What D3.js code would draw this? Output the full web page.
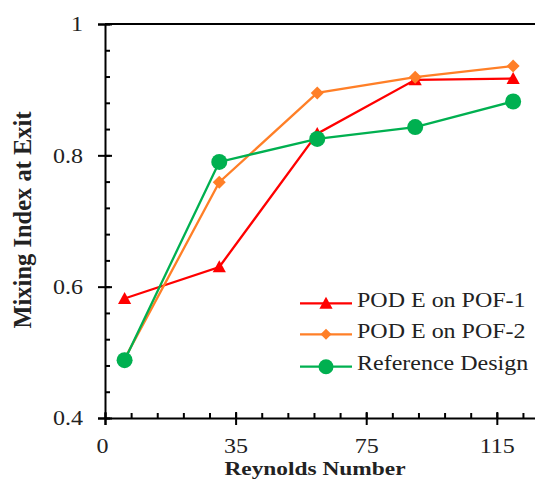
<!DOCTYPE html>
<html>
<head>
<meta charset="utf-8">
<script src="https://cdn.jsdelivr.net/npm/d3@7"></script>
<style>
  html, body { margin: 0; padding: 0; background: #fff; }
  svg { display: block; }
  text { font-family: "Liberation Serif", "Times New Roman", serif; fill: #222; }
</style>
</head>
<body>
<div id="chart"></div>
<script>
// Data
const reynolds = [1, 30, 60, 90, 120];
const seriesNames = ['POD E on POF-1', 'POD E on POF-2', 'Reference Design'];
const pof1Values = [0.582, 0.630, 0.833, 0.915, 0.917];
const pof2Values = [0.490, 0.759, 0.895, 0.919, 0.936];
const refValues = [0.488, 0.790, 0.825, 0.843, 0.882];
const seriesColors = ['#ff0000', '#ff7f27', '#00b050'];
const seriesMarkers = ['triangle', 'diamond', 'circle'];

const xTickValues = [-5, 35, 75, 115];
const xTickLabels = ['0', '35', '75', '115'];
const xMinorTicks = d3.range(-5, 128, 8);
const yTickValues = [0.4, 0.6, 0.8, 1];
const yTickLabels = ['0.4', '0.6', '0.8', '1'];
const yMinorTicks = d3.range(0.4, 1.0001, 0.04);

const width = 535, height = 479;
const stretch = 1.2; // the picture is a bit wider than tall

const svg = d3.select('#chart').append('svg')
  .attr('width', width)
  .attr('height', height);

const x = d3.scaleLinear().domain([-5, 127]).range([105, 536]);
const y = d3.scaleLinear().domain([0.4, 1]).range([418, 24]);

// top border of plot area
svg.append('line')
  .attr('x1', x(-5)).attr('x2', width + 2)
  .attr('y1', y(1)).attr('y2', y(1))
  .attr('stroke', '#000').attr('stroke-width', 2);

// minor ticks (inside)
svg.append('g')
  .attr('transform', `translate(${x(-5)},0)`)
  .call(d3.axisRight(y).tickValues(yMinorTicks).tickSize(5).tickFormat(''))
  .call(g => g.select('.domain').remove());
svg.append('g')
  .attr('transform', `translate(0,${y(0.4)})`)
  .call(d3.axisTop(x).tickValues(xMinorTicks).tickSize(5).tickFormat(''))
  .call(g => g.select('.domain').remove());

// y axis
const yAxis = svg.append('g')
  .attr('transform', `translate(${x(-5)},0)`)
  .call(d3.axisLeft(y).tickValues(yTickValues).tickSizeOuter(0).tickSize(7)
    .tickFormat((d, i) => yTickLabels[i]));
yAxis.selectAll('.tick line').attr('x2', -7).attr('x1', 7);
yAxis.selectAll('.tick text')
  .attr('x', -22 / stretch)
  .attr('dy', '0.34em')
  .attr('transform', `scale(${stretch},1)`)
  .style('font-size', '20px')
  .style('font-family', '"Liberation Serif", serif')
  .attr('fill', '#333');

// x axis
const xAxis = svg.append('g')
  .attr('transform', `translate(0,${y(0.4)})`)
  .call(d3.axisBottom(x).tickValues(xTickValues).tickSizeOuter(0).tickSize(7)
    .tickFormat((d, i) => xTickLabels[i]));
xAxis.selectAll('.tick line').attr('y1', -6).attr('y2', 7);
xAxis.selectAll('.tick text')
  .attr('y', 35)
  .attr('dy', 0)
  .attr('x', (d, i) => (i === 0 ? -3 / stretch : 0))
  .attr('transform', `scale(${stretch},1)`)
  .style('font-size', '20px')
  .style('font-family', '"Liberation Serif", serif')
  .attr('fill', '#333');

svg.selectAll('.domain').attr('stroke-width', 2);
svg.selectAll('.tick line').attr('stroke-width', 2);

// axis titles
svg.append('text')
  .attr('transform', `translate(315,474.5) scale(${stretch},1)`)
  .attr('text-anchor', 'middle')
  .style('font-size', '19.5px')
  .style('font-weight', 'bold')
  .text('Reynolds Number');

svg.append('text')
  .attr('transform', 'translate(31,220) rotate(-90)')
  .attr('text-anchor', 'middle')
  .style('font-size', '24.5px')
  .style('font-weight', 'bold')
  .text('Mixing Index at Exit');

// marker paths
function markerPath(type, size) {
  if (type === 'triangle') return `M0,${-size * 0.55}L${size * 0.55},${size * 0.45}L${-size * 0.55},${size * 0.45}Z`;
  if (type === 'diamond') return `M0,${-size * 0.5}L${size * 0.5},0L0,${size * 0.5}L${-size * 0.5},0Z`;
  return d3.symbol(d3.symbolCircle, size * size * Math.PI / 4)();
}
const markerSizes = { triangle: 12, diamond: 13, circle: 16 };

const allValues = [pof1Values, pof2Values, refValues];
const line = d3.line()
  .x((d, i) => x(reynolds[i]))
  .y(d => y(d));

allValues.forEach((vals, s) => {
  const g = svg.append('g');
  g.append('path')
    .datum(vals)
    .attr('d', line)
    .attr('fill', 'none')
    .attr('stroke', seriesColors[s])
    .attr('stroke-width', 2.3);
  g.selectAll('path.mark')
    .data(vals)
    .join('path')
    .attr('class', 'mark')
    .attr('transform', (d, i) => `translate(${x(reynolds[i])},${y(d)})`)
    .attr('d', markerPath(seriesMarkers[s], markerSizes[seriesMarkers[s]]))
    .attr('fill', seriesColors[s]);
});

// legend
const legendRows = [303.3, 334.3, 366.7];
const legend = svg.append('g');
seriesNames.forEach((name, s) => {
  const ly = legendRows[s];
  legend.append('line')
    .attr('x1', 300).attr('x2', 352)
    .attr('y1', ly).attr('y2', ly)
    .attr('stroke', seriesColors[s])
    .attr('stroke-width', 2.3);
  const lsize = seriesMarkers[s] === 'circle' ? 15 : (seriesMarkers[s] === 'diamond' ? 11 : 12);
  legend.append('path')
    .attr('transform', `translate(326,${ly})`)
    .attr('d', markerPath(seriesMarkers[s], lsize))
    .attr('fill', seriesColors[s]);
  legend.append('text')
    .attr('transform', `translate(357,${ly + 3.6}) scale(${stretch},1)`)
    .style('font-size', '20px')
    .text(name);
});
</script>
</body>
</html>
